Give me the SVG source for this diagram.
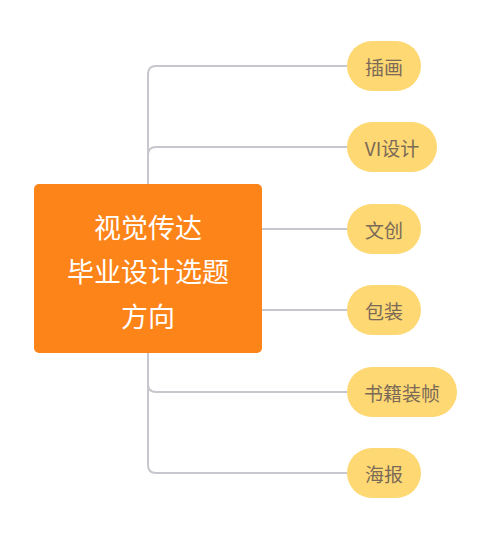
<svg xmlns="http://www.w3.org/2000/svg" width="500" height="551" viewBox="0 0 500 551">
<style>
.c{fill:none;stroke:#c7c8ce;stroke-width:2}
.p{fill:#fdd873}
.pt{font-family:"Noto Sans CJK SC","Noto Sans",sans-serif;font-size:19px;fill:#7b6a58;text-anchor:middle;dominant-baseline:central}
.mt{font-family:"Noto Sans CJK SC","Noto Sans",sans-serif;font-size:27px;fill:#ffffff;text-anchor:middle;dominant-baseline:central}
</style>
<rect width="500" height="551" fill="#ffffff"/>
<g id="connectors">
<path class="c" d="M148,260 V74 Q148,66 156,66 H348"/>
<path class="c" d="M148,260 V155 Q148,147 156,147 H348"/>
<path class="c" d="M250,229 H348"/>
<path class="c" d="M250,310 H348"/>
<path class="c" d="M148,300 V384 Q148,392 156,392 H348"/>
<path class="c" d="M148,300 V465 Q148,473 156,473 H348"/>
</g>
<g id="root">
<rect x="34" y="184" width="228" height="169" rx="5" fill="#fd8419"/>
<text class="mt" x="148" y="226">视觉传达</text>
<text class="mt" x="148" y="270">毕业设计选题</text>
<text class="mt" x="148" y="315">方向</text>
</g>
<g id="n1"><rect class="p" x="347" y="41" width="74" height="50" rx="25"/><text class="pt" x="384" y="66">插画</text></g>
<g id="n2"><rect class="p" x="347" y="122" width="90" height="50" rx="25"/><text class="pt" x="392" y="147">VI设计</text></g>
<g id="n3"><rect class="p" x="347" y="204" width="74" height="50" rx="25"/><text class="pt" x="384" y="229">文创</text></g>
<g id="n4"><rect class="p" x="347" y="285" width="74" height="50" rx="25"/><text class="pt" x="384" y="310">包装</text></g>
<g id="n5"><rect class="p" x="347" y="367" width="110" height="50" rx="25"/><text class="pt" x="402" y="392">书籍装帧</text></g>
<g id="n6"><rect class="p" x="347" y="448" width="74" height="50" rx="25"/><text class="pt" x="384" y="473">海报</text></g>
</svg>
